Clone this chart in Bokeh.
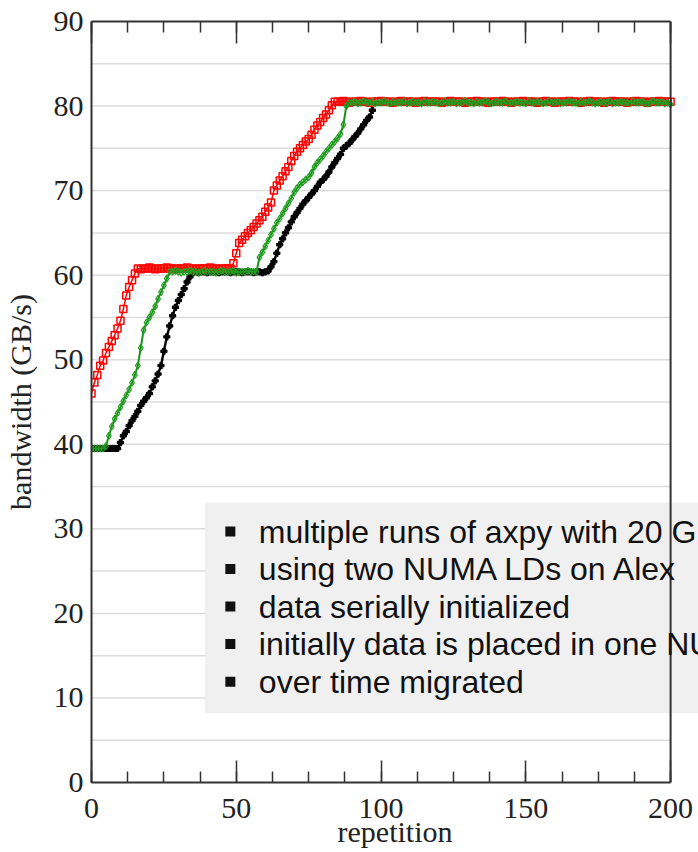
from bokeh.plotting import figure
from bokeh.models import (Range1d, SingleIntervalTicker, LinearAxis, BoxAnnotation,
                          Label, ColumnDataSource, Span)
from bokeh.embed import file_html
from bokeh.resources import INLINE

# ---------------- data ----------------
red_bw = [
    46.0, 47.3, 48.2, 49.3, 49.9, 50.8, 51.5, 52.2, 52.9, 53.7,
    54.6, 56.0, 57.6, 58.6, 59.4, 60.2, 60.8,
    60.7, 60.8, 60.8, 60.9, 60.8, 60.7, 60.8, 60.8, 60.8, 60.9,
    60.8, 60.8, 60.7, 60.8, 60.8, 60.8, 60.9, 60.8, 60.8, 60.7,
    60.8, 60.8, 60.8, 60.8, 60.9, 60.8, 60.8, 60.7, 60.8, 60.8,
    60.8, 60.8,
    61.4, 62.6, 63.8, 64.2, 64.6, 65.0, 65.3, 65.7, 66.1, 66.5,
    66.9, 67.5, 68.0, 68.6, 70.0, 70.6, 71.2, 71.7, 72.3, 72.8,
    73.5, 74.1, 74.6, 75.0, 75.4, 75.8, 76.1, 76.6, 77.2, 77.7,
    78.1, 78.6, 79.0, 79.5, 80.1, 80.5,
    80.5, 80.5, 80.6, 80.5, 80.4, 80.5, 80.5, 80.5, 80.6, 80.5,
    80.5, 80.4, 80.5, 80.5, 80.5, 80.6, 80.5, 80.5, 80.5, 80.4,
    80.5, 80.5, 80.6, 80.5, 80.5, 80.5, 80.5, 80.4, 80.5, 80.5,
    80.6, 80.5, 80.5, 80.5, 80.5, 80.5, 80.4, 80.5, 80.5, 80.6,
    80.5, 80.5, 80.5, 80.5, 80.4, 80.5, 80.5, 80.5, 80.6, 80.5,
    80.5, 80.5, 80.4, 80.5, 80.5, 80.5, 80.5, 80.6, 80.5, 80.5,
    80.4, 80.5, 80.5, 80.5, 80.6, 80.5, 80.5, 80.5, 80.5, 80.4,
    80.5, 80.5, 80.6, 80.5, 80.5, 80.4, 80.5, 80.5, 80.5, 80.5,
    80.6, 80.5, 80.5, 80.5, 80.4, 80.5, 80.5, 80.6, 80.5, 80.5,
    80.5, 80.5, 80.4, 80.5, 80.5, 80.6, 80.5, 80.5, 80.5, 80.5,
    80.4, 80.5, 80.5, 80.6, 80.5, 80.5, 80.5, 80.4, 80.5, 80.5,
    80.5, 80.6, 80.5, 80.5, 80.5, 80.5,
]

green_bw = [
    39.5, 39.5, 39.5, 39.5, 39.5, 39.8, 41.0, 42.1, 43.0, 43.7,
    44.4, 45.1, 45.8, 46.5, 47.3, 48.2, 49.3, 51.4, 53.5, 54.4,
    55.0, 55.6, 56.3, 57.2, 58.0, 58.8, 59.6, 60.4,
    60.4, 60.5, 60.4, 60.3, 60.4, 60.4, 60.5, 60.4, 60.4, 60.3,
    60.4, 60.5, 60.4, 60.4, 60.4, 60.3, 60.4, 60.5, 60.4, 60.4,
    60.4, 60.5, 60.3, 60.4, 60.4, 60.4, 60.5, 60.4, 60.4, 60.4,
    62.1, 62.7, 63.4, 64.1, 64.8, 65.5, 66.2, 66.7, 67.3, 67.9,
    68.5, 69.1, 69.8, 70.3, 70.7, 71.0, 71.3, 71.6, 72.1, 72.8,
    73.3, 73.7, 74.1, 74.6, 75.0, 75.4, 75.8, 76.2, 76.7, 77.8,
    80.0, 80.4,
    80.4, 80.5, 80.3, 80.4, 80.6, 80.4, 80.4, 80.5, 80.3, 80.4,
    80.4, 80.6, 80.4, 80.3, 80.5, 80.4, 80.4, 80.4, 80.6, 80.3,
    80.4, 80.5, 80.4, 80.4, 80.3, 80.6, 80.4, 80.4, 80.5, 80.4,
    80.3, 80.4, 80.6, 80.4, 80.4, 80.5, 80.3, 80.4, 80.4, 80.6,
    80.4, 80.4, 80.3, 80.5, 80.4, 80.4, 80.6, 80.4, 80.3, 80.4,
    80.5, 80.4, 80.4, 80.6, 80.3, 80.4, 80.4, 80.5, 80.4, 80.4,
    80.3, 80.6, 80.4, 80.4, 80.5, 80.4, 80.3, 80.4, 80.6, 80.4,
    80.4, 80.5, 80.3, 80.4, 80.4, 80.6, 80.4, 80.4, 80.3, 80.5,
    80.4, 80.4, 80.6, 80.4, 80.3, 80.4, 80.5, 80.4, 80.4, 80.6,
    80.3, 80.4, 80.4, 80.5, 80.4, 80.4, 80.3, 80.6, 80.4, 80.4,
    80.5, 80.4, 80.3, 80.4, 80.6, 80.4, 80.4, 80.5, 80.3, 80.4,
    80.2,
]

black_bw = [
    39.5, 39.5, 39.5, 39.5, 39.5, 39.5, 39.5, 39.5, 39.5, 39.5,
    40.2, 41.0, 41.5, 42.2, 42.8, 43.3, 43.9, 44.6, 45.1, 45.5,
    46.0, 46.8, 47.5, 48.3, 49.3, 51.0, 52.7, 54.0, 55.2, 56.2,
    57.0, 57.7, 58.4, 59.2, 59.8, 60.3,
    60.4, 60.3, 60.4, 60.4, 60.3, 60.4, 60.4, 60.4, 60.3, 60.4,
    60.4, 60.4, 60.3, 60.4, 60.4, 60.4, 60.3, 60.4, 60.4, 60.4,
    60.3, 60.4, 60.4, 60.3, 60.4, 60.5,
    61.0, 61.6, 62.6, 63.6, 64.3, 65.0, 65.6, 66.3, 66.9, 67.4,
    67.9, 68.4, 68.8, 69.2, 69.6, 70.0, 70.5, 71.0, 71.3, 71.7,
    72.2, 72.8, 73.3, 73.8, 74.3, 75.0, 75.3, 75.6, 76.0, 76.4,
    76.8, 77.3, 77.8, 78.3, 78.7, 79.5,
]

red_rep = list(range(len(red_bw)))
green_rep = list(range(len(green_bw)))
black_rep = list(range(len(black_bw)))

x_min, x_max = 0, 200
y_min, y_max = 0, 90
x_tick_interval = 50
y_label_interval = 10
y_grid_interval = 5

notes = [
    "multiple runs of axpy with 20 GB",
    "using two NUMA LDs on Alex",
    "data serially initialized",
    "initially data is placed in one NUMA LD",
    "over time migrated",
]

# ---------------- layout ----------------
W, H = 698, 852
FRAME_L, FRAME_R_AXIS, FRAME_T, FRAME_B = 89, 670, 21, 782
# the frame is stretched to the canvas edge so the note box can run past the right axis
x_view_max = x_max * (W - FRAME_L) / (FRAME_R_AXIS - FRAME_L)

SERIF = "Liberation Serif"
SANS = "Liberation Sans"
AX = "#333333"
TXT = "#222222"

p = figure(width=W, height=H, x_range=Range1d(x_min, x_view_max), y_range=Range1d(y_min, y_max),
           output_backend="svg", toolbar_location=None,
           min_border_left=FRAME_L, min_border_right=0, min_border_top=FRAME_T,
           min_border_bottom=H - FRAME_B,
           x_axis_label="repetition", y_axis_label="bandwidth (GB/s)")
p.background_fill_color = "white"
p.border_fill_color = "white"
p.outline_line_color = None

# bottom x axis
for ax in p.xaxis:
    ax.ticker = SingleIntervalTicker(interval=x_tick_interval, num_minor_ticks=4)
    ax.bounds = (x_min, x_max)
    ax.major_tick_in = 22
    ax.major_tick_out = 0
    ax.minor_tick_in = 11
    ax.minor_tick_out = 0
    ax.major_tick_line_color = AX
    ax.minor_tick_line_color = AX
    ax.major_tick_line_width = 1.5
    ax.minor_tick_line_width = 1.5
    ax.axis_line_color = AX
    ax.axis_line_width = 2
    ax.major_label_text_font = SERIF
    ax.major_label_text_font_size = "30px"
    ax.major_label_text_color = TXT
    ax.major_label_text_line_height = 1.0
    ax.major_label_standoff = 16
    ax.axis_label_text_font = SERIF
    ax.axis_label_text_font_size = "30px"
    ax.axis_label_text_font_style = "normal"
    ax.axis_label_text_color = TXT
    ax.axis_label_text_line_height = 1.0
    ax.axis_label_standoff = -6

# top axis: ticks only
top = LinearAxis(ticker=SingleIntervalTicker(interval=x_tick_interval, num_minor_ticks=4),
                 bounds=(x_min, x_max),
                 major_tick_in=22, major_tick_out=0, minor_tick_in=11, minor_tick_out=0,
                 major_tick_line_color=AX, minor_tick_line_color=AX,
                 major_tick_line_width=1.5, minor_tick_line_width=1.5,
                 axis_line_color=AX, axis_line_width=2,
                 major_label_text_font_size="1px", major_label_text_color=None,
                 major_label_standoff=0)
p.add_layout(top, "above")

# y axis: labels only
for ax in p.yaxis:
    ax.ticker = SingleIntervalTicker(interval=y_label_interval, num_minor_ticks=0)
    ax.major_tick_in = 0
    ax.major_tick_out = 0
    ax.minor_tick_in = 0
    ax.minor_tick_out = 0
    ax.axis_line_color = AX
    ax.axis_line_width = 2
    ax.major_label_text_font = SERIF
    ax.major_label_text_font_size = "30px"
    ax.major_label_text_color = TXT
    ax.major_label_standoff = 8
    ax.axis_label_text_font = SERIF
    ax.axis_label_text_font_size = "30px"
    ax.axis_label_text_font_style = "normal"
    ax.axis_label_text_color = TXT
    ax.axis_label_standoff = 14

# right border of the plotting area
p.add_layout(Span(location=x_max, dimension="height", line_color=AX, line_width=2))

# horizontal grid, only inside the axes box
p.xgrid.visible = False
p.ygrid.visible = False
grid_levels = list(range(y_min + y_grid_interval, y_max, y_grid_interval))
p.segment(x0=[x_min] * len(grid_levels), x1=[x_max] * len(grid_levels),
          y0=grid_levels, y1=grid_levels, line_color="#dcdcdc", line_width=1.5,
          level="underlay")

# note box (under the glyphs, over the grid)
box = BoxAnnotation(left=39.2, right=x_view_max + 10, top=33.1, bottom=8.2,
                    fill_color="#f0f0f0", fill_alpha=1, line_color=None, level="underlay")
p.add_layout(box)

# series
bsrc = ColumnDataSource(dict(x=black_rep, y=black_bw))
rsrc = ColumnDataSource(dict(x=red_rep, y=red_bw))
gsrc = ColumnDataSource(dict(x=green_rep, y=green_bw))

p.line("x", "y", source=bsrc, line_color="black", line_width=2.4)
p.scatter("x", "y", source=bsrc, marker="plus", size=6, line_color="black",
          fill_color="black", line_width=1.2)

p.line("x", "y", source=rsrc, line_color="#ff0000", line_width=1.5)
p.scatter("x", "y", source=rsrc, marker="square", size=7, fill_color=None,
          line_color="#ff0000", line_width=1.5)

p.line("x", "y", source=gsrc, line_color="#1a8f1a", line_width=2)
p.scatter("x", "y", source=gsrc, marker="diamond", size=7, fill_color=None,
          line_color="#22a022", line_width=1.2)

# note text with square bullets (bullet centre = text middle)
line_mid0 = 29.67
line_step = 4.435
text_x = 57.8
bullet_x = 47.95
bx, by = [], []
for i, t in enumerate(notes):
    yy = line_mid0 - i * line_step
    p.add_layout(Label(x=text_x, y=yy, text=t, text_font=SANS, text_font_size="32px",
                       text_color="#111111", text_baseline="middle", text_align="left"))
    bx.append(bullet_x)
    by.append(yy)
p.scatter(bx, by, marker="square", size=10, fill_color="#111111", line_color=None)

open("out.html", "w").write(file_html(p, INLINE))
